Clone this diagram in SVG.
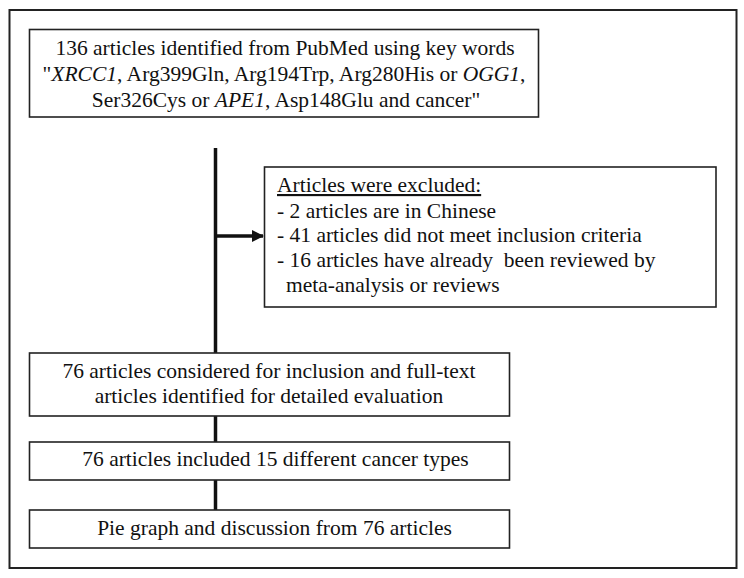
<svg xmlns="http://www.w3.org/2000/svg" width="744" height="578" viewBox="0 0 744 578">
<style>
.box{fill:#fff;stroke:#222;stroke-width:1.6}
.t{font-family:"Liberation Serif","Times New Roman",serif;font-size:21.5px;fill:#111}
.c{stroke:#111;stroke-width:3.5;fill:none}
</style>
<defs>
<marker id="ah" markerWidth="12" markerHeight="12" refX="11" refY="6" orient="auto" markerUnits="userSpaceOnUse">
<path d="M0,0 L12,6 L0,12 z" fill="#111"/>
</marker>
</defs>
<rect x="9.5" y="10" width="727" height="558" fill="#fff" stroke="#222" stroke-width="2"/>
<g id="connectors">
<line class="c" x1="215.5" y1="148" x2="215.5" y2="353"/>
<line class="c" x1="215.5" y1="416" x2="215.5" y2="442"/>
<line class="c" x1="215.5" y1="480" x2="215.5" y2="510"/>
<line class="c" x1="215.5" y1="236" x2="263" y2="236" marker-end="url(#ah)"/>
</g>
<g id="n1">
<rect class="box" x="29.5" y="29.5" width="509" height="87.5"/>
<text class="t" x="285" y="55" text-anchor="middle">136 articles identified from PubMed using key words</text>
<text class="t" x="284" y="81" text-anchor="middle">"<tspan font-style="italic">XRCC1</tspan>, Arg399Gln, Arg194Trp, Arg280His or <tspan font-style="italic">OGG1</tspan>,</text>
<text class="t" x="286" y="107" text-anchor="middle">Ser326Cys or <tspan font-style="italic">APE1</tspan>, Asp148Glu and cancer"</text>
</g>
<g id="n2">
<rect class="box" x="264.5" y="167" width="451.5" height="140"/>
<text class="t" x="277" y="192" text-decoration="underline">Articles were excluded:</text>
<text class="t" x="277" y="218">- 2 articles are in Chinese</text>
<text class="t" x="277" y="242">- 41 articles did not meet inclusion criteria</text>
<text class="t" x="277" y="267" xml:space="preserve">- 16 articles have already  been reviewed by</text>
<text class="t" x="286" y="292">meta-analysis or reviews</text>
</g>
<g id="n3">
<rect class="box" x="29.5" y="353" width="480" height="63"/>
<text class="t" x="269" y="378" text-anchor="middle">76 articles considered for inclusion and full-text</text>
<text class="t" x="269" y="403" text-anchor="middle">articles identified for detailed evaluation</text>
</g>
<g id="n4">
<rect class="box" x="29.5" y="442" width="480" height="38"/>
<text class="t" x="275.5" y="466" text-anchor="middle">76 articles included 15 different cancer types</text>
</g>
<g id="n5">
<rect class="box" x="29.5" y="510" width="480" height="38"/>
<text class="t" x="274.5" y="535" text-anchor="middle">Pie graph and discussion from 76 articles</text>
</g>
</svg>
